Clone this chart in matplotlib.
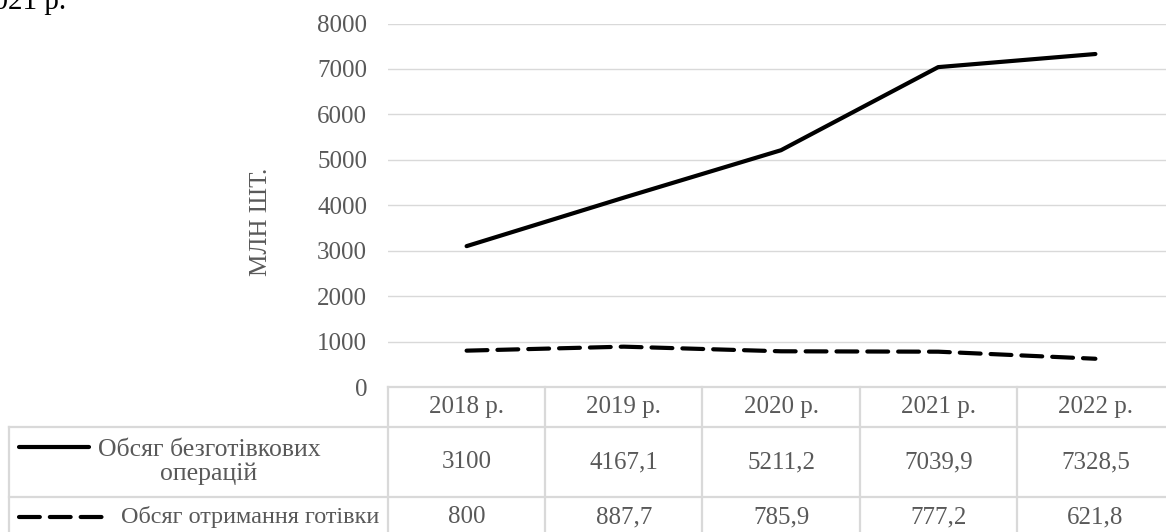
import matplotlib
matplotlib.use("Agg")
import matplotlib.pyplot as plt
from matplotlib.lines import Line2D
from matplotlib.transforms import blended_transform_factory

plt.rcParams['font.family'] = ['Liberation Serif', 'DejaVu Serif']

# Data
years = ["2018 р.", "2019 р.", "2020 р.", "2021 р.", "2022 р."]
noncash = [3100, 4167.1, 5211.2, 7039.9, 7328.5]
cash = [800, 887.7, 785.9, 777.2, 621.8]
noncash_labels = ["3100", "4167,1", "5211,2", "7039,9", "7328,5"]
cash_labels = ["800", "887,7", "785,9", "777,2", "621,8"]
series_names = ["Обсяг безготівкових\nоперацій", "Обсяг отримання готівки"]
y_ticks = [0, 1000, 2000, 3000, 4000, 5000, 6000, 7000, 8000]

W, H = 1166, 532
fig = plt.figure(figsize=(W / 100, H / 100), dpi=100)

def fx(px):
    return px / W

def fy(py):
    return 1 - py / H

# Plot area in pixel layout
left, right, top, bottom = 388, 1174, 23.5, 387
ax = fig.add_axes([fx(left), fy(bottom), fx(right - left), (bottom - top) / H])
ax.set_xlim(-0.5, len(years) - 0.5)
ax.set_ylim(0, 8000)
ax.set_yticks(y_ticks)
ax.set_yticklabels([str(v) for v in y_ticks])
ax.set_xticks([])
ax.tick_params(axis='y', length=0, pad=15, labelsize=18, labelcolor='#595959')
for s in ax.spines.values():
    s.set_visible(False)
for v in y_ticks[1:]:
    ax.axhline(v, color='#D9D9D9', lw=1.0, zorder=0)

gray = '#595959'
lw = 3.0
dash = (5.0, 2.4)
x = list(range(len(years)))
ax.plot(x, noncash, color='black', lw=lw, solid_capstyle='round',
        solid_joinstyle='round', clip_on=False)
ax.plot(x, cash, color='black', lw=lw, dashes=dash,
        dash_capstyle='round', dash_joinstyle='round', clip_on=False)

# Axis title
fig.text(fx(261), fy(222), "МЛН ШТ.", rotation=90, ha='center', va='center',
         fontsize=18, color=gray)

# Partial caption line above the chart
fig.text(fx(-21), fy(9), "2021 р.", ha='left', va='baseline', fontsize=21,
         color='black')

# Data table under the chart
border = '#D9D9D9'
blw = 1.6
tr = blended_transform_factory(ax.transData, fig.transFigure)
row_y = [387, 427, 497, 540]
table_left = 9

# horizontal rules
fig.add_artist(Line2D([fx(left), fx(right)], [fy(row_y[0])] * 2,
                      color=border, lw=blw))
for ry in row_y[1:3]:
    fig.add_artist(Line2D([fx(table_left), fx(right)], [fy(ry)] * 2,
                          color=border, lw=blw))
# vertical rules
fig.add_artist(Line2D([fx(table_left)] * 2, [fy(row_y[1]), fy(row_y[3])],
                      color=border, lw=blw))
for i in range(len(years) + 1):
    fig.add_artist(Line2D([i - 0.5] * 2, [fy(row_y[0]), fy(row_y[3])],
                          transform=tr, color=border, lw=blw))

def mid(a, b):
    return fy((a + b) / 2)

for i, yr in enumerate(years):
    fig.text(i, mid(row_y[0], row_y[1]), yr, transform=tr, ha='center',
             va='center', fontsize=18, color=gray)
    fig.text(i, mid(row_y[1], row_y[2]), noncash_labels[i], transform=tr,
             ha='center', va='center', fontsize=18, color=gray)
    fig.text(i, fy(517), cash_labels[i], transform=tr, ha='center',
             va='center', fontsize=18, color=gray)

# Legend keys inside the table
fig.add_artist(Line2D([fx(19), fx(89)], [fy(447)] * 2, color='black', lw=lw,
                      solid_capstyle='round'))
fig.text(fx(209), mid(row_y[1], row_y[2]), series_names[0], ha='center',
         va='center', fontsize=18.5, color=gray, linespacing=1.05)
fig.add_artist(Line2D([fx(19), fx(110)], [fy(517)] * 2, color='black', lw=lw,
                      dashes=dash, dash_capstyle='round'))
fig.text(fx(121), fy(517), series_names[1], ha='left', va='center',
         fontsize=17.5, color=gray)

fig.savefig("out.png", dpi=100)
